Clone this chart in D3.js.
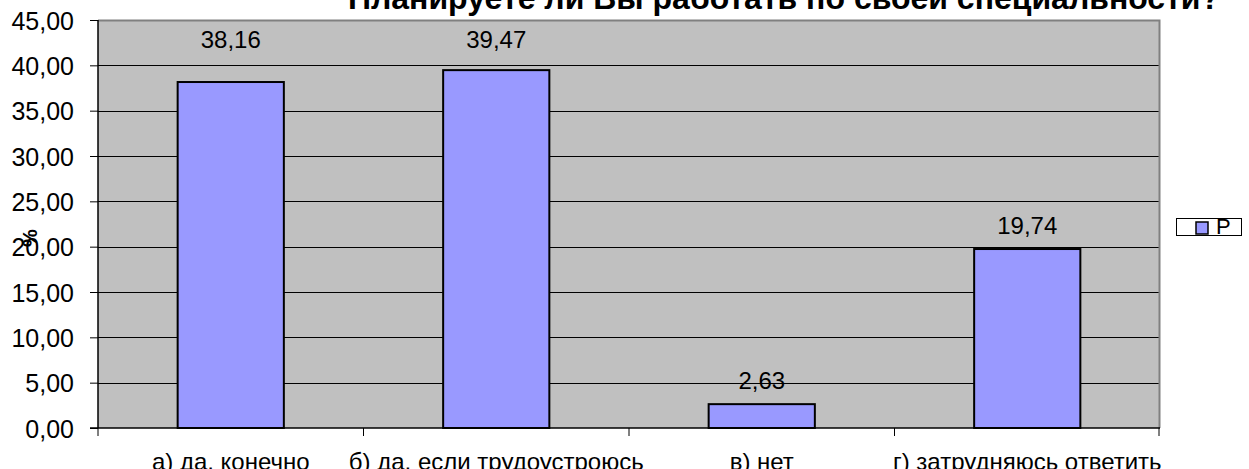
<!DOCTYPE html>
<html><head><meta charset="utf-8">
<script src="https://cdn.jsdelivr.net/npm/d3@7"></script>
<style>body{margin:0;background:#fff;} svg{display:block;font-family:"Liberation Sans",Arial,sans-serif;}</style>
</head><body>
<svg id="chart" width="1249" height="469"></svg>
<script>
const title = "Планируете ли Вы работать по своей специальности?";
const categories = ["а) да, конечно", "б) да, если трудоустроюсь", "в) нет", "г) затрудняюсь ответить"];
const values = [38.16, 39.47, 2.63, 19.74];
const seriesName = "P";
const yTicks = [0, 5, 10, 15, 20, 25, 30, 35, 40, 45];
const yLabel = "%";

const svg = d3.select("#chart");
const plot = {left: 98, right: 1160, top: 20, bottom: 428};
const fmt = v => d3.format(".2f")(v).replace(".", ",");

const x = d3.scaleBand().domain(categories).range([plot.left, plot.right]).paddingInner(0.6).paddingOuter(0.3);
const xb = d3.scaleBand().domain(categories).range([plot.left, plot.right]);
const y = d3.scaleLinear().domain([0, 45]).range([plot.bottom, plot.top]);

// plot background
svg.append("rect").attr("x", plot.left).attr("y", plot.top)
  .attr("width", plot.right - plot.left).attr("height", plot.bottom - plot.top)
  .attr("fill", "#C0C0C0");

// gridlines
svg.append("g").selectAll("line").data(yTicks.filter(d => d > 0 && d < 45)).join("line")
  .attr("x1", plot.left).attr("x2", plot.right)
  .attr("y1", d => Math.round(y(d)) + 0.5).attr("y2", d => Math.round(y(d)) + 0.5)
  .attr("stroke", "#000").attr("stroke-width", 1);

// plot border (top/right gray)
svg.append("path")
  .attr("d", `M${plot.left},${plot.top + 0.5}H${plot.right - 0.5}V${plot.bottom}`)
  .attr("fill", "none").attr("stroke", "#808080").attr("stroke-width", 2);

// bars
svg.append("g").selectAll("rect").data(values).join("rect")
  .attr("x", (d, i) => x(categories[i]))
  .attr("y", d => y(d))
  .attr("width", x.bandwidth())
  .attr("height", d => y(0) - y(d))
  .attr("fill", "#9999FF").attr("stroke", "#000").attr("stroke-width", 2);

// value labels (kept inside the plot area near the top)
svg.append("g").selectAll("text").data(values).join("text")
  .attr("x", (d, i) => x(categories[i]) + x.bandwidth() / 2)
  .attr("y", d => (y(d) - 15 < y(35)) ? plot.top + 28 : y(d) - 15)
  .attr("text-anchor", "middle").attr("font-size", 24).attr("fill", "#000")
  .text(d => fmt(d));

// y axis
const yAxis = d3.axisLeft(y).tickValues(yTicks).tickFormat(fmt).tickSize(8).tickPadding(16);
const gy = svg.append("g").attr("transform", `translate(${plot.left},0)`).call(yAxis);
gy.select(".domain").attr("stroke", "#000").attr("stroke-width", 1.5).attr("d", `M0,${plot.top}V${plot.bottom}`);
gy.selectAll(".tick line").attr("stroke", "#000");
gy.selectAll(".tick text").attr("font-size", 25).attr("font-family", "Liberation Sans, Arial, sans-serif").attr("fill", "#000").attr("dy", "0.36em");

// x axis with ticks at category boundaries
const gx = svg.append("g").attr("transform", `translate(0,${plot.bottom})`);
gx.append("line").attr("x1", plot.left - 8).attr("x2", plot.right).attr("y1", 0).attr("y2", 0)
  .attr("stroke", "#000").attr("stroke-width", 1.5);
const bounds = categories.map(c => xb(c)).concat([plot.right - 1]);
gx.selectAll("line.tk").data(bounds).join("line").attr("class", "tk")
  .attr("x1", d => d).attr("x2", d => d).attr("y1", 0).attr("y2", 8)
  .attr("stroke", "#000").attr("stroke-width", 1);
gx.selectAll("text").data(categories).join("text")
  .attr("x", d => xb(d) + xb.bandwidth() / 2).attr("y", 42)
  .attr("text-anchor", "middle").attr("font-size", 24).attr("fill", "#000")
  .text(d => d);

// y axis title
svg.append("text").attr("transform", "translate(37,238) rotate(-90)")
  .attr("text-anchor", "middle").attr("font-size", 20).attr("font-weight", "bold").text(yLabel);

// title
svg.append("text").attr("x", 784).attr("y", 9).attr("text-anchor", "middle")
  .attr("font-size", 32).attr("font-weight", "bold").text(title);

// legend
const lg = svg.append("g");
lg.append("rect").attr("x", 1176.5).attr("y", 218.5).attr("width", 65).attr("height", 17)
  .attr("fill", "#fff").attr("stroke", "#000").attr("stroke-width", 1);
lg.append("rect").attr("x", 1196).attr("y", 222).attr("width", 12).attr("height", 12)
  .attr("fill", "#9999FF").attr("stroke", "#000").attr("stroke-width", 1.5);
lg.append("text").attr("x", 1216).attr("y", 234).attr("font-size", 22).attr("fill", "#000").text(seriesName);
</script>
</body></html>
